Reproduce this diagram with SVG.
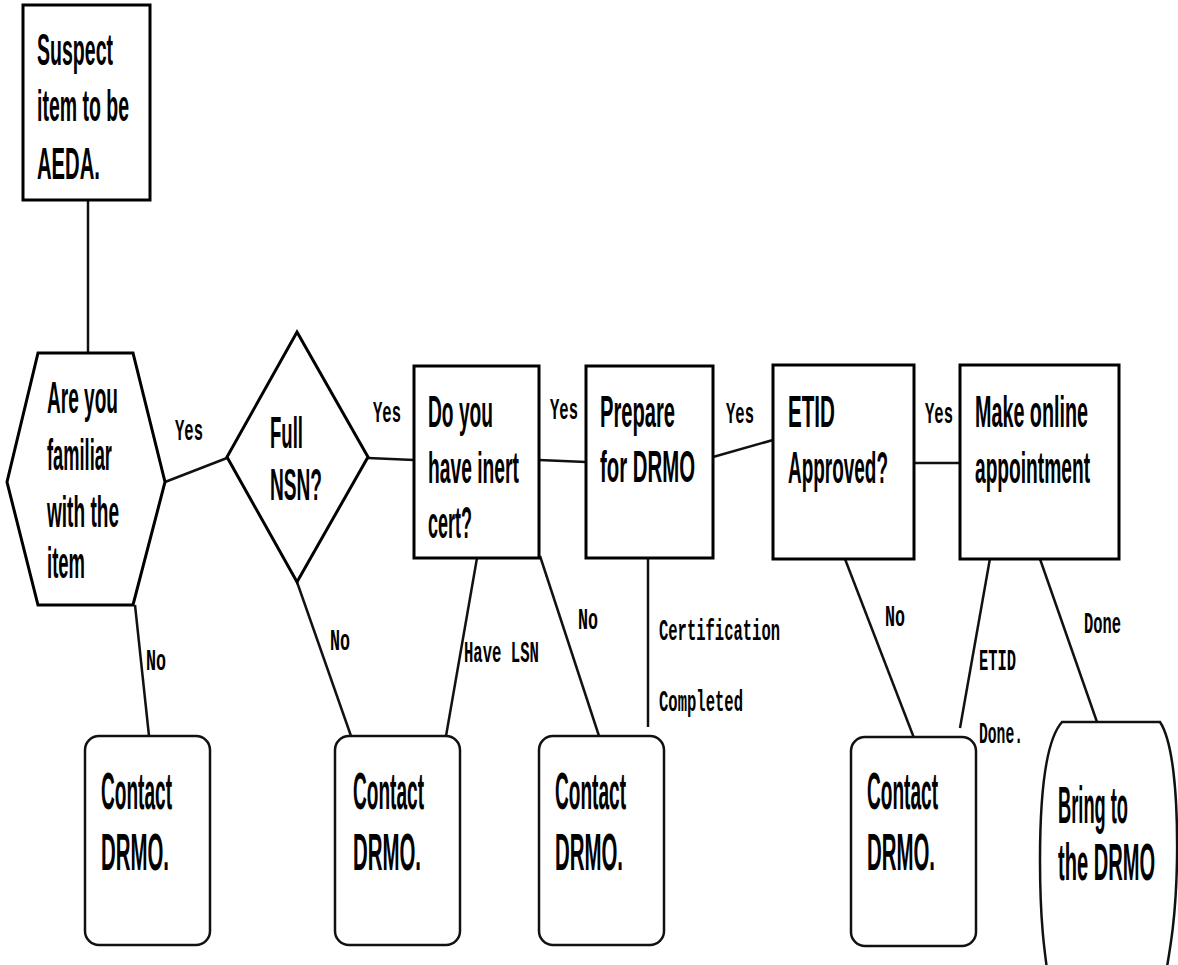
<svg xmlns="http://www.w3.org/2000/svg" width="1178" height="965" viewBox="0 0 1178 965">
<style>
.box{fill:#fff;stroke:#000;stroke-width:3}
.term{fill:#fff;stroke:#111;stroke-width:2.5}
.t{font-family:"Liberation Sans",Arial,sans-serif;font-size:44px;font-weight:bold;fill:#000}
.tc{font-family:"Liberation Sans",Arial,sans-serif;font-size:51px;font-weight:bold;fill:#000}
.lbl{font-family:"Liberation Mono","Courier New",monospace;font-size:30px;font-weight:bold;fill:#000}
.c{stroke:#111;stroke-width:2.5;fill:none}
</style>
<rect width="1178" height="965" fill="#fff"/>
<g id="connectors">
<line class="c" x1="88" y1="200" x2="88" y2="353"/>
<line class="c" x1="165" y1="482" x2="227" y2="458"/>
<line class="c" x1="368" y1="458" x2="414" y2="460"/>
<line class="c" x1="539" y1="460" x2="586" y2="462"/>
<line class="c" x1="713" y1="457" x2="773" y2="440"/>
<line class="c" x1="914" y1="463" x2="960" y2="463"/>
<line class="c" x1="135" y1="605" x2="149" y2="736"/>
<line class="c" x1="297" y1="582" x2="351" y2="736"/>
<line class="c" x1="477" y1="558" x2="446" y2="736"/>
<line class="c" x1="540" y1="556" x2="599" y2="736"/>
<line class="c" x1="648" y1="558" x2="648" y2="727"/>
<line class="c" x1="845" y1="559" x2="914" y2="738"/>
<line class="c" x1="992" y1="547" x2="960" y2="728"/>
<line class="c" x1="1040" y1="559" x2="1097" y2="722"/>
<text class="lbl" transform="translate(175,440) scale(0.52,1)" textLength="53.8" lengthAdjust="spacingAndGlyphs">Yes</text>
<text class="lbl" transform="translate(373,422) scale(0.52,1)" textLength="53.8" lengthAdjust="spacingAndGlyphs">Yes</text>
<text class="lbl" transform="translate(550,419) scale(0.52,1)" textLength="53.8" lengthAdjust="spacingAndGlyphs">Yes</text>
<text class="lbl" transform="translate(726,423) scale(0.52,1)" textLength="53.8" lengthAdjust="spacingAndGlyphs">Yes</text>
<text class="lbl" transform="translate(925,423) scale(0.52,1)" textLength="53.8" lengthAdjust="spacingAndGlyphs">Yes</text>
<text class="lbl" transform="translate(146,670) scale(0.52,1)" textLength="38.5" lengthAdjust="spacingAndGlyphs">No</text>
<text class="lbl" transform="translate(330,650) scale(0.52,1)" textLength="38.5" lengthAdjust="spacingAndGlyphs">No</text>
<text class="lbl" transform="translate(464,662) scale(0.52,1)" textLength="144.2" lengthAdjust="spacingAndGlyphs">Have LSN</text>
<text class="lbl" transform="translate(578,629) scale(0.52,1)" textLength="38.5" lengthAdjust="spacingAndGlyphs">No</text>
<text class="lbl" transform="translate(659,640) scale(0.52,1)" textLength="232.7" lengthAdjust="spacingAndGlyphs">Certification</text>
<text class="lbl" transform="translate(659,711) scale(0.52,1)" textLength="161.5" lengthAdjust="spacingAndGlyphs">Completed</text>
<text class="lbl" transform="translate(885,626) scale(0.52,1)" textLength="38.5" lengthAdjust="spacingAndGlyphs">No</text>
<text class="lbl" transform="translate(979,670) scale(0.52,1)" textLength="71.2" lengthAdjust="spacingAndGlyphs">ETID</text>
<text class="lbl" transform="translate(979,743) scale(0.52,1)" textLength="84.6" lengthAdjust="spacingAndGlyphs">Done.</text>
<text class="lbl" transform="translate(1084,633) scale(0.52,1)" textLength="71.2" lengthAdjust="spacingAndGlyphs">Done</text>
</g>
<g id="suspect">
<rect class="box" x="23" y="5" width="127" height="195"/>
<text class="t" transform="translate(37,65) scale(0.45,1)" textLength="168.9" lengthAdjust="spacingAndGlyphs">Suspect</text>
<text class="t" transform="translate(37,121) scale(0.45,1)" textLength="204.4" lengthAdjust="spacingAndGlyphs">item to be</text>
<text class="t" transform="translate(37,179) scale(0.45,1)" textLength="140" lengthAdjust="spacingAndGlyphs">AEDA.</text>
</g>
<g id="familiar">
<polygon class="box" points="38,353 133,353 165,482 133,605 38,605 7,482"/>
<text class="t" transform="translate(47,413) scale(0.45,1)" textLength="157.8" lengthAdjust="spacingAndGlyphs">Are you</text>
<text class="t" transform="translate(47,470) scale(0.45,1)" textLength="144.4" lengthAdjust="spacingAndGlyphs">familiar</text>
<text class="t" transform="translate(47,527) scale(0.45,1)" textLength="160" lengthAdjust="spacingAndGlyphs">with the</text>
<text class="t" transform="translate(47,578) scale(0.45,1)" textLength="84.4" lengthAdjust="spacingAndGlyphs">item</text>
</g>
<g id="fullnsn">
<polygon class="box" points="297,332 368,457 297,582 227,457"/>
<text class="t" transform="translate(270,448) scale(0.45,1)" textLength="73.3" lengthAdjust="spacingAndGlyphs">Full</text>
<text class="t" transform="translate(270,500) scale(0.45,1)" textLength="115.6" lengthAdjust="spacingAndGlyphs">NSN?</text>
</g>
<g id="inertcert">
<rect class="box" x="414" y="366" width="125" height="192"/>
<text class="t" transform="translate(428,427) scale(0.45,1)" textLength="144.4" lengthAdjust="spacingAndGlyphs">Do you</text>
<text class="t" transform="translate(428,483) scale(0.45,1)" textLength="202.2" lengthAdjust="spacingAndGlyphs">have inert</text>
<text class="t" transform="translate(428,538) scale(0.45,1)" textLength="97.8" lengthAdjust="spacingAndGlyphs">cert?</text>
</g>
<g id="prepare">
<rect class="box" x="586" y="366" width="127" height="192"/>
<text class="t" transform="translate(600,427) scale(0.45,1)" textLength="166.7" lengthAdjust="spacingAndGlyphs">Prepare</text>
<text class="t" transform="translate(600,482) scale(0.45,1)" textLength="211.1" lengthAdjust="spacingAndGlyphs">for DRMO</text>
</g>
<g id="etid">
<rect class="box" x="773" y="365" width="141" height="194"/>
<text class="t" transform="translate(788,427) scale(0.45,1)" textLength="104.4" lengthAdjust="spacingAndGlyphs">ETID</text>
<text class="t" transform="translate(788,483) scale(0.45,1)" textLength="222.2" lengthAdjust="spacingAndGlyphs">Approved?</text>
</g>
<g id="appointment">
<rect class="box" x="960" y="365" width="159" height="194"/>
<text class="t" transform="translate(975,427) scale(0.45,1)" textLength="251.1" lengthAdjust="spacingAndGlyphs">Make online</text>
<text class="t" transform="translate(975,483) scale(0.45,1)" textLength="255.6" lengthAdjust="spacingAndGlyphs">appointment</text>
</g>
<g id="contact1">
<rect class="term" x="85" y="736" width="125" height="209" rx="14" ry="14"/>
<text class="tc" transform="translate(101,809) scale(0.375,1)" textLength="189.3" lengthAdjust="spacingAndGlyphs">Contact</text>
<text class="tc" transform="translate(101,870) scale(0.375,1)" textLength="181.3" lengthAdjust="spacingAndGlyphs">DRMO.</text>
</g>
<g id="contact2">
<rect class="term" x="335" y="736" width="125" height="209" rx="14" ry="14"/>
<text class="tc" transform="translate(353,809) scale(0.375,1)" textLength="189.3" lengthAdjust="spacingAndGlyphs">Contact</text>
<text class="tc" transform="translate(353,870) scale(0.375,1)" textLength="181.3" lengthAdjust="spacingAndGlyphs">DRMO.</text>
</g>
<g id="contact3">
<rect class="term" x="539" y="736" width="125" height="209" rx="14" ry="14"/>
<text class="tc" transform="translate(555,809) scale(0.375,1)" textLength="189.3" lengthAdjust="spacingAndGlyphs">Contact</text>
<text class="tc" transform="translate(555,870) scale(0.375,1)" textLength="181.3" lengthAdjust="spacingAndGlyphs">DRMO.</text>
</g>
<g id="contact4">
<rect class="term" x="851" y="737" width="125" height="209" rx="14" ry="14"/>
<text class="tc" transform="translate(867,809) scale(0.375,1)" textLength="189.3" lengthAdjust="spacingAndGlyphs">Contact</text>
<text class="tc" transform="translate(867,870) scale(0.375,1)" textLength="181.3" lengthAdjust="spacingAndGlyphs">DRMO.</text>
</g>
<g id="bring">
<path class="term" d="M1062,722 L1160,722 C1172,740 1178,790 1177,860 C1176,920 1170,950 1163,990 L1050,990 C1044,950 1040,920 1040,860 C1040,790 1046,740 1062,722 Z"/>
<text class="tc" transform="translate(1058,823) scale(0.375,1)" textLength="186.7" lengthAdjust="spacingAndGlyphs">Bring to</text>
<text class="tc" transform="translate(1058,880) scale(0.375,1)" textLength="258.7" lengthAdjust="spacingAndGlyphs">the DRMO</text>
</g>
</svg>
